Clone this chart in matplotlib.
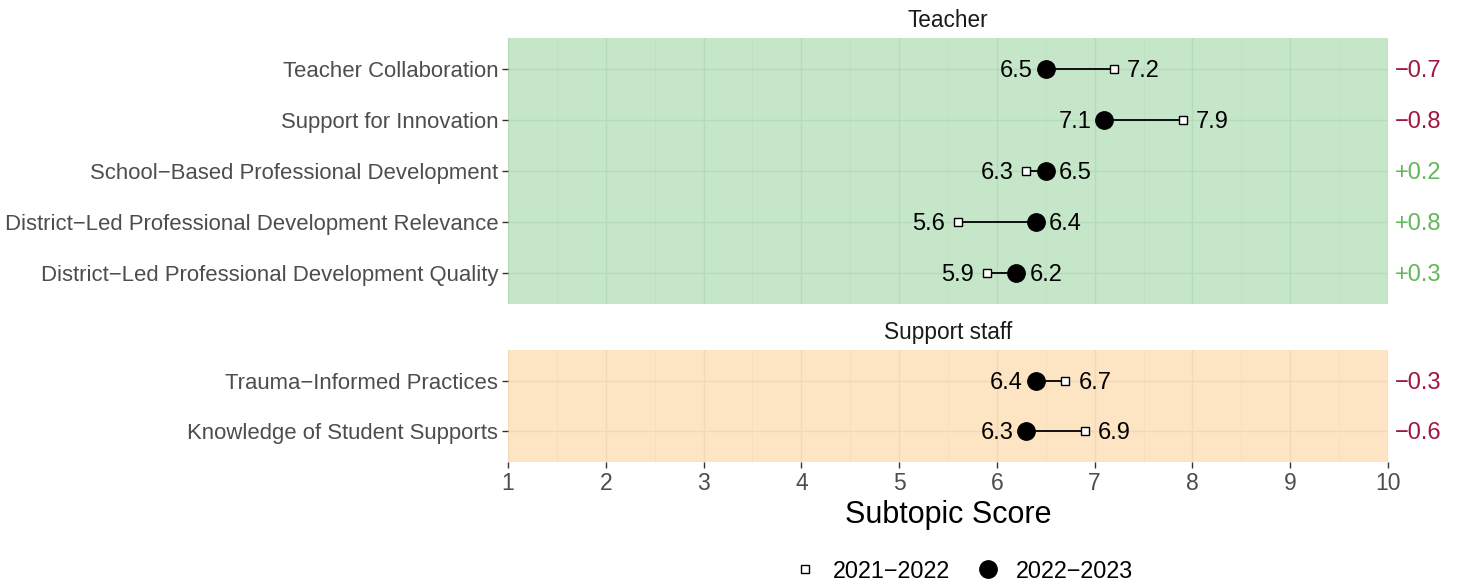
import matplotlib
matplotlib.use("Agg")
import matplotlib.pyplot as plt
from matplotlib.lines import Line2D
import numpy as np

plt.rcParams['font.family'] = ['Liberation Sans', 'DejaVu Sans']

# data
teacher_items = ["Teacher Collaboration",
                 "Support for Innovation",
                 "School\u2212Based Professional Development",
                 "District\u2212Led Professional Development Relevance",
                 "District\u2212Led Professional Development Quality"]
teacher_2122 = [7.2, 7.9, 6.3, 5.6, 5.9]
teacher_2223 = [6.5, 7.1, 6.5, 6.4, 6.2]

staff_items = ["Trauma\u2212Informed Practices",
               "Knowledge of Student Supports"]
staff_2122 = [6.7, 6.9]
staff_2223 = [6.4, 6.3]

years = ["2021\u22122022", "2022\u22122023"]
facets = ["Teacher", "Support staff"]

W, H = 1460, 584
fig = plt.figure(figsize=(W / 100, H / 100), dpi=100)

def box(x0, y0, x1, y1):
    return [x0 / W, 1 - y1 / H, (x1 - x0) / W, (y1 - y0) / H]

ax_t = fig.add_axes(box(508, 38, 1388, 304))
ax_s = fig.add_axes(box(508, 350, 1388, 462))

RED = "#a0173d"
GREEN = "#62b65b"

def panel(ax, title, items, old, new, bg, grid_major, grid_minor, show_x):
    n = len(items)
    y = np.arange(n)
    ax.set_facecolor(bg)
    ax.set_xlim(1, 10)
    ax.set_ylim(n - 1 + 0.6, -0.6)
    ax.set_xticks(np.arange(1, 11))
    ax.set_xticks(np.arange(1.5, 10, 1), minor=True)
    ax.set_yticks(y)
    ax.set_yticklabels(items)
    ax.grid(True, which='major', color=grid_major, lw=1.0)
    ax.grid(True, which='minor', axis='x', color=grid_minor, lw=0.7)
    ax.set_axisbelow(True)
    for s in ax.spines.values():
        s.set_visible(False)
    ax.tick_params(axis='y', length=4, width=1, color='#333333',
                   labelsize=15.9, labelcolor='#4d4d4d', pad=3)
    ax.tick_params(axis='x', which='minor', length=0)
    if show_x:
        ax.tick_params(axis='x', which='major', length=4, width=1, color='#333333',
                       labelsize=16.5, labelcolor='#4d4d4d', pad=3)
    else:
        ax.tick_params(axis='x', which='major', length=0, labelbottom=False)
    ax.set_title(title, fontsize=16.3, color='#1a1a1a', pad=8)

    for i in range(n):
        a, b = old[i], new[i]
        ax.plot([a, b], [i, i], color='black', lw=1.3, zorder=2)
        ax.plot(a, i, marker='s', ms=5.5, mfc='white', mec='black', mew=1, ls='none', zorder=3)
        ax.plot(b, i, marker='o', ms=12.5, color='black', ls='none', zorder=4)
        lo, hi = min(a, b), max(a, b)
        ax.annotate(f"{lo:.1f}", xy=(lo, i), xytext=(-13, -2), textcoords='offset pixels',
                    ha='right', va='center', fontsize=17, color='black', zorder=5)
        ax.annotate(f"{hi:.1f}", xy=(hi, i), xytext=(13, -2), textcoords='offset pixels',
                    ha='left', va='center', fontsize=17, color='black', zorder=5)
        d = round(b - a, 1)
        lab = (f"+{d:.1f}" if d > 0 else f"\u2212{abs(d):.1f}")
        ax.annotate(lab, xy=(1, i), xycoords=('axes fraction', 'data'),
                    xytext=(7, -2), textcoords='offset pixels',
                    ha='left', va='center', fontsize=17,
                    color=GREEN if d > 0 else RED)

panel(ax_t, facets[0], teacher_items, teacher_2122, teacher_2223,
      "#c6e6c9", "#b6dbb9", "#bfe1c2", False)
panel(ax_s, facets[1], staff_items, staff_2122, staff_2223,
      "#fde5c3", "#f2d8b4", "#f7debb", True)

ax_s.set_xlabel("Subtopic Score", fontsize=22, color='black', labelpad=4)

handles = [Line2D([], [], marker='s', ms=5.5, mfc='white', mec='black', mew=1, ls='none'),
           Line2D([], [], marker='o', ms=12.5, color='black', ls='none')]
fig.legend(handles, years, loc='center', bbox_to_anchor=(962 / W, 1 - 571 / H),
           ncol=2, frameon=False, fontsize=16.8, handletextpad=0.6,
           columnspacing=1.0, handlelength=1.2)

fig.savefig("out.png", dpi=100)
